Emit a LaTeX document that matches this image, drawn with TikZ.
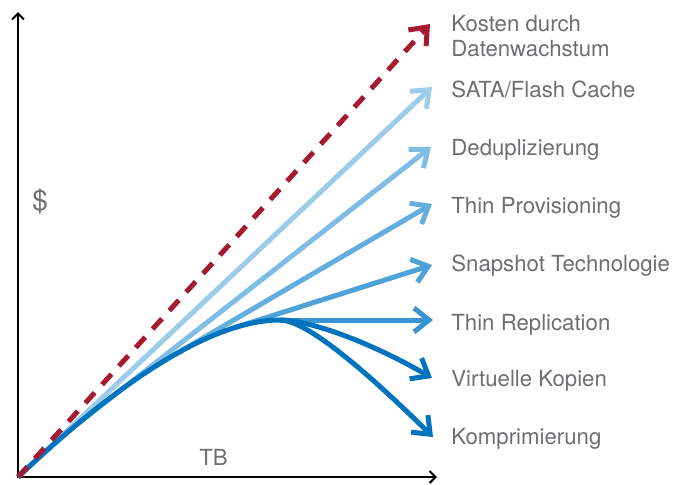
\documentclass[tikz,border=0pt]{standalone}
\usepackage{fontspec}
\setmainfont{TeX Gyre Heros}
\usetikzlibrary{arrows.meta}
\definecolor{kred}{RGB}{166,25,46}
\definecolor{tgray}{RGB}{109,110,113}
\definecolor{bA}{RGB}{157,203,234}
\definecolor{bB}{RGB}{127,189,228}
\definecolor{bC}{RGB}{98,174,222}
\definecolor{bD}{RGB}{76,162,217}
\definecolor{bE}{RGB}{56,148,211}
\definecolor{bF}{RGB}{0,115,190}
\begin{document}
\begin{tikzpicture}[x=0.5pt,y=-0.5pt]
 \tikzstyle{lab}=[anchor=base west,inner sep=0pt,text=tgray,font=\fontsize{11.1}{12.5}\selectfont]
 \tikzstyle{pfeil}=[-{Straight Barb[length=7.5pt,width=12pt]},line width=2.5pt]
 \tikzstyle{achse}=[{Straight Barb[length=3pt,width=6pt]}-{Straight Barb[length=3pt,width=6pt]},line width=1pt,black]
 \useasboundingbox (0,0) rectangle (685,484);
 %
 \coordinate (O) at (18,477);
 \coordinate (Ytop) at (18,12);
 \coordinate (Xend) at (437,477);
 \coordinate (P) at (280,320);
 \coordinate (T1) at (430,24);
 \coordinate (T2) at (432,87);
 \coordinate (T3) at (431,147);
 \coordinate (T4) at (432,204);
 \coordinate (T5) at (432,265);
 \coordinate (T6) at (433,320);
 \coordinate (T7) at (432,378);
 \coordinate (T8) at (433,437);
 %
 \path (O) .. controls (129,372) and (217,320) .. coordinate[pos=0.19] (B2) coordinate[pos=0.53] (B3) coordinate[pos=0.78] (B4) (P);
 %
 \draw[achse] (Ytop) -- (O) -- (Xend);
 \draw[pfeil,bA] (O) -- (T2);
 \draw[pfeil,bB] (B2) -- (T3);
 \draw[pfeil,bC] (B3) -- (T4);
 \draw[pfeil,bD] (B4) -- (T5);
 \draw[pfeil,bE] (P) -- (T6);
 \draw[pfeil,bF] (P) .. controls (310,320) and (372,343) .. (T7);
 \draw[pfeil,bF] (O) .. controls (129,372) and (217,320) .. (P) .. controls (303,320) and (354,359) .. (T8);
 \draw[pfeil,kred,dash pattern=on 7pt off 5.5pt] (O) -- (T1);
 %
 \node[lab, align=left] (L1) at (451,56.7) {Kosten durch\\Datenwachstum};
 \node[lab] (L2) at (451,97.3) {SATA/Flash Cache};
 \node[lab] (L3) at (451,155.7) {Deduplizierung};
 \node[lab] (L4) at (451,213.3) {Thin Provisioning};
 \node[lab] (L5) at (451,271.7) {Snapshot Technologie};
 \node[lab] (L6) at (451,330.7) {Thin Replication};
 \node[lab] (L7) at (451,386.7) {Virtuelle Kopien};
 \node[lab] (L8) at (451,444) {Komprimierung};
 \node[lab, font=\fontsize{14}{16}\selectfont] (Ly) at (32,210) {\$};
 \node[lab] (Lx) at (199,465) {TB};
\end{tikzpicture}
\end{document}
